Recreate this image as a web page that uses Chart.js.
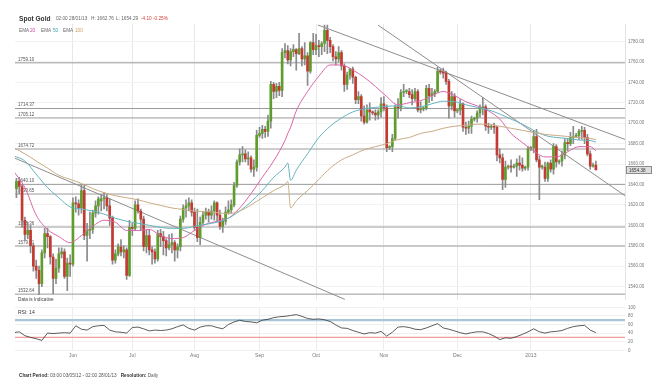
<!DOCTYPE html>
<html lang="en">
<head>
<meta charset="UTF-8">
<title>Spot Gold</title>
<script src="https://cdn.jsdelivr.net/npm/chart.js"></script>
<style>
  body { margin: 0; background: #fff; font-family: "Liberation Sans", Arial, sans-serif; }
  #wrap { position: relative; width: 663px; height: 390px; overflow: hidden; }
  canvas { position: absolute; left: 0; }
  .t { position: absolute; white-space: nowrap; line-height: 1; font-size: 4.7px; color: #666; }
</style>
</head>
<body>
<div id="wrap">
  <canvas id="main" width="663" height="306" style="top:0"></canvas>
  <canvas id="rsi" width="663" height="63" style="top:300px"></canvas>

  <div class="t" style="left:19px;top:15.5px;font-size:6.6px;font-weight:bold;color:#333">Spot Gold</div>
  <div class="t" style="left:56px;top:17px">02:00 28/01/13</div>
  <div class="t" style="left:91px;top:17px">H: 1662.76</div>
  <div class="t" style="left:116px;top:17px">L: 1654.29</div>
  <div class="t" style="left:141px;top:17px;color:#d9433a">-4.10</div>
  <div class="t" style="left:153px;top:17px;color:#d9433a">-0.25%</div>

  <div class="t" style="left:19px;top:28.7px">EMA</div>
  <div class="t" style="left:30px;top:28.7px;color:#d0409a">20</div>
  <div class="t" style="left:41px;top:28.7px">EMA</div>
  <div class="t" style="left:53px;top:28.7px;color:#3a9fb0">50</div>
  <div class="t" style="left:63px;top:28.7px">EMA</div>
  <div class="t" style="left:75px;top:28.7px;color:#c8a060">100</div>

  <div class="t" style="left:18px;top:298px;color:#444">Data is Indicative</div>
  <div class="t" style="left:18px;top:310px;font-size:5px;color:#333">RSI: 14</div>
  <div class="t" style="left:19px;top:374px;color:#555"><b style="color:#333">Chart Period:</b> 03:00 03/05/12 - 02:00 28/01/13 &nbsp; <b style="color:#333">Resolution:</b> Daily</div>
</div>

<script>
// daily candles per month: [day, open, high, low, close]
const may = [
  [3,1654,1656,1632,1636],[4,1636,1646,1627,1643],[7,1643,1647,1631,1638],[8,1638,1640,1598,1605],
  [9,1605,1608,1585,1591],[10,1591,1603,1587,1595],[11,1595,1600,1573,1580],[14,1580,1582,1555,1560],
  [15,1560,1566,1548,1556],[16,1556,1560,1532,1543],[17,1543,1576,1540,1573],[18,1573,1597,1568,1592],
  [21,1592,1597,1578,1589],[22,1589,1590,1562,1569],[23,1569,1572,1533,1548],[24,1548,1567,1543,1558],
  [25,1558,1578,1554,1572],[28,1572,1578,1568,1574],[29,1574,1577,1548,1550],[30,1550,1568,1536,1563],
  [31,1563,1571,1550,1562]
];
const jun = [
  [1,1562,1627,1560,1622],[4,1622,1628,1613,1621],[5,1621,1625,1610,1617],[6,1617,1640,1612,1634],
  [7,1634,1640,1586,1590],[8,1590,1602,1565,1595],[11,1595,1613,1587,1596],[12,1596,1615,1592,1612],
  [13,1612,1624,1608,1619],[14,1619,1628,1611,1626],[15,1624,1630,1614,1626],[18,1626,1632,1616,1627],
  [19,1627,1630,1614,1619],[20,1619,1626,1600,1607],[21,1607,1609,1562,1566],[22,1566,1576,1563,1572],
  [25,1572,1582,1570,1579],[26,1579,1586,1570,1574],[27,1574,1580,1568,1576],[28,1576,1578,1547,1551],
  [29,1551,1605,1550,1598]
];
const jul = [
  [2,1598,1602,1590,1597],[3,1597,1624,1595,1620],[4,1620,1626,1612,1614],[5,1614,1616,1595,1606],
  [6,1606,1609,1575,1579],[9,1579,1595,1573,1590],[10,1590,1596,1571,1576],[11,1576,1579,1562,1574],
  [12,1574,1577,1563,1567],[13,1567,1595,1565,1592],[16,1592,1596,1579,1589],[17,1589,1594,1571,1585],
  [18,1585,1587,1570,1578],[19,1578,1591,1576,1581],[20,1581,1592,1573,1583],[23,1583,1585,1565,1576],
  [24,1576,1582,1568,1579],[25,1579,1609,1575,1606],[26,1606,1620,1603,1617],[27,1617,1625,1608,1619],
  [30,1619,1627,1614,1622],[31,1622,1625,1609,1613]
];
const aug = [
  [1,1613,1617,1595,1598],[2,1598,1616,1584,1588],[3,1588,1608,1581,1603],[6,1603,1613,1601,1610],
  [7,1610,1617,1606,1613],[8,1613,1616,1603,1610],[9,1610,1619,1606,1614],[10,1614,1624,1605,1622],
  [13,1622,1623,1604,1610],[14,1610,1615,1596,1599],[15,1599,1607,1593,1604],[16,1604,1618,1601,1613],
  [17,1613,1624,1611,1615],[20,1615,1625,1612,1620],[21,1620,1642,1618,1639],[22,1639,1664,1637,1662],
  [23,1662,1675,1659,1669],[24,1669,1677,1662,1670],[27,1670,1674,1662,1665],[28,1665,1672,1659,1666],
  [29,1666,1668,1652,1655],[30,1655,1664,1648,1657],[31,1657,1693,1653,1688]
];
const sep = [
  [3,1688,1696,1686,1690],[4,1690,1698,1685,1694],[5,1694,1697,1686,1692],[6,1692,1708,1687,1702],
  [7,1702,1741,1695,1738],[10,1738,1740,1724,1731],[11,1731,1739,1725,1736],[12,1736,1740,1727,1732],
  [13,1732,1773,1726,1769],[14,1769,1778,1764,1771],[17,1771,1776,1758,1762],[18,1762,1773,1756,1770],
  [19,1770,1777,1765,1772],[20,1772,1773,1752,1768],[21,1768,1788,1767,1773],[24,1773,1775,1756,1763],
  [25,1763,1779,1757,1766],[26,1766,1769,1737,1751],[27,1751,1780,1749,1779],[28,1779,1788,1767,1772]
];
const oct = [
  [1,1772,1787,1767,1776],[2,1776,1781,1765,1775],[3,1775,1780,1767,1778],[4,1778,1796,1770,1791],
  [5,1791,1796,1768,1781],[8,1781,1784,1769,1775],[9,1775,1777,1761,1765],[10,1765,1770,1757,1763],
  [11,1763,1775,1760,1769],[12,1769,1771,1752,1756],[15,1756,1758,1731,1738],[16,1738,1750,1733,1747],
  [17,1747,1754,1743,1753],[18,1753,1755,1739,1745],[19,1745,1746,1719,1723],[22,1723,1731,1719,1726],
  [23,1726,1728,1702,1707],[24,1707,1717,1699,1701],[25,1701,1718,1700,1713],[26,1713,1720,1703,1711],
  [28,1711,1712,1708,1710],[29,1710,1713,1703,1708],[30,1708,1713,1704,1711],[31,1711,1725,1706,1719]
];
const nov = [
  [1,1719,1726,1712,1715],[2,1715,1718,1672,1676],[4,1676,1678,1674,1677],[5,1677,1689,1672,1685],
  [6,1685,1718,1683,1716],[7,1716,1724,1705,1715],[8,1715,1733,1712,1730],[9,1730,1738,1726,1731],
  [11,1731,1733,1729,1731],[12,1731,1734,1725,1728],[13,1728,1733,1718,1724],[14,1724,1734,1722,1731],
  [15,1731,1733,1711,1713],[16,1713,1721,1710,1714],[18,1714,1716,1712,1715],[19,1715,1737,1713,1734],
  [20,1734,1738,1720,1727],[21,1727,1734,1722,1729],[22,1729,1733,1726,1731],[23,1731,1755,1730,1751],
  [25,1751,1753,1748,1750],[26,1750,1754,1744,1749],[27,1749,1751,1738,1741],[28,1741,1743,1705,1717],
  [29,1717,1731,1713,1726],[30,1726,1729,1706,1712]
];
const dec = [
  [2,1712,1714,1710,1713],[3,1713,1723,1708,1719],[4,1719,1720,1692,1696],[5,1696,1701,1689,1695],
  [6,1695,1702,1690,1697],[7,1697,1707,1690,1704],[9,1704,1706,1702,1705],[10,1705,1712,1701,1710],
  [11,1710,1718,1706,1715],[12,1715,1725,1708,1716],[13,1716,1718,1693,1697],[14,1697,1700,1690,1696],
  [16,1696,1698,1694,1697],[17,1697,1700,1690,1696],[18,1696,1697,1663,1669],[19,1669,1675,1661,1666],
  [20,1666,1670,1635,1645],[21,1645,1663,1637,1657],[23,1657,1659,1655,1658],[24,1658,1664,1652,1657],
  [25,1657,1660,1656,1658],[26,1658,1665,1648,1661],[27,1661,1668,1654,1659],[28,1659,1666,1653,1656],
  [30,1656,1658,1654,1657],[31,1657,1677,1654,1675]
];
const jan = [
  [1,1675,1677,1673,1676],[2,1676,1693,1671,1687],[3,1687,1694,1662,1664],[4,1664,1668,1625,1657],
  [6,1657,1659,1655,1657],[7,1657,1662,1643,1646],[8,1646,1662,1643,1661],[9,1661,1664,1652,1655],
  [10,1655,1680,1650,1677],[11,1677,1679,1657,1662],[13,1662,1664,1660,1663],[14,1663,1673,1658,1669],
  [15,1669,1685,1665,1681],[16,1681,1685,1673,1680],[17,1680,1691,1678,1686],[18,1686,1697,1680,1687],
  [20,1687,1690,1686,1688],[21,1688,1694,1684,1692],[22,1692,1697,1684,1693],[23,1693,1696,1680,1686],
  [24,1686,1689,1668,1670],[25,1670,1673,1655,1658],[27,1658,1661,1657,1659],[28,1659,1663,1654,1654.38]
];
const monthNames = ['Jun', 'Jul', 'Aug', 'Sep', 'Oct', 'Nov', 'Dec', '2013'];

// moving averages at these bar positions
const emaAt  = [0,4,8,12,16,20,24,28,32,36,40,44,48,52,56,60,64,68,72,76,80,84,88,92,96,97,98,100,104,108,112,116,120,124,128,132,136,140,144,148,152,156,160,164,168,172,176,180,184,188,192,196,200,204,206];
const ema20  = [1653,1637,1610,1596,1589,1583,1590,1599,1605,1603,1595,1595,1596,1590,1587,1588,1595,1601,1604,1607,1617,1631,1647,1663,1683,1690,1696,1712,1731,1746,1757,1757,1752,1745,1736,1726,1718,1720,1722,1727,1731,1727,1721,1717,1712,1704,1690,1681,1673,1667,1667,1672,1677,1677,1673];
const ema50  = [1668,1663,1650,1637,1627,1618,1616,1614,1611,1607,1604,1602,1600,1598,1597,1597,1599,1601,1603,1607,1614,1623,1634,1647,1657,1661,1644,1654,1670,1686,1697,1705,1711,1714,1715.5,1716.5,1717,1715,1716,1719,1721.5,1721,1718,1715.5,1713,1709,1704,1699,1693,1688,1686,1685,1683.5,1683,1681.5];
const ema100 = [1676,1670,1663,1656,1649,1645,1641,1636,1632,1629,1627,1625,1622,1619.5,1617,1615.5,1614,1613.5,1612.5,1611.5,1614,1620,1627,1634,1640,1643,1617,1624,1634,1645,1656,1664,1669,1674,1677,1680,1684,1686,1690,1692,1695,1697,1698,1699,1699,1697,1695,1693,1691,1689,1688,1687,1686,1685,1684];

// RSI(14), one reading every second bar
const rsiStep = 2;
const rsi14 = [41,43,34,30,27,23,40,39,40,41,40,57,49,47,55,57,58,47,43,42,40,53,54,50,45,47,46,47,50,55,
  59,51,47,54,57,57,53,50,60,66,70,67,66,64,70,72,76,78,79,81,83,79,74,72,73,71,67,59,52,51,
  46,42,38,41,40,44,33,42,54,55,53,49,48,52,57,62,52,49,45,41,38,41,43,43,39,33,25,29,28,32,
  37,43,50,43,40,43,44,46,51,55,57,58,47,41];

// support / resistance levels and trend lines (bar position, price)
const levels = [1759.10, 1714.37, 1705.12, 1674.72, 1640.10, 1630.65, 1598.36, 1579.71, 1532.64];
const trendLines = [
  [[0.5, 1665.7], [117.2, 1527.5]],
  [[107.7, 1796.1], [216.3, 1684.1]],
  [[128.9, 1796.1], [216.3, 1629.0]]
];
const priceTicks = [1540,1560,1580,1600,1620,1640,1660,1680,1700,1720,1740,1760,1780];
const rsiTicks = [0,20,40,60,80,100];

const xMin = 0.5, xMax = 216.3;
const green = '#5e9c2c', red = '#c23b32';

Chart.defaults.font.family = '"Liberation Sans", Arial, sans-serif';

const bars = [];
const monthStarts = [];
[may, jun, jul, aug, sep, oct, nov, dec, jan].forEach((m, mi) => {
  if (mi > 0) monthStarts.push(bars.length);
  m.forEach(r => bars.push(r));
});

const wicks = bars.map((r, i) => ({ x: i, y: [r[3], r[2]] }));
const bodies = bars.map((r, i) => ({ x: i, y: [r[1], r[4]] }));
const bodyColors = bars.map(r => r[4] >= r[1] ? green : red);
const lastClose = bars[bars.length - 1][4];

function lineSet(points, color, width, order) {
  return { type: 'line', data: points, borderColor: color, borderWidth: width, pointRadius: 0, fill: false, order: order };
}

const datasets = [];
levels.forEach(v => datasets.push(lineSet([{ x: xMin, y: v }, { x: xMax, y: v }], '#9a9a9a', 1, 10)));
trendLines.forEach(t => datasets.push(lineSet(t.map(p => ({ x: p[0], y: p[1] })), '#8d8d8d', 1, 9)));
datasets.push({ type: 'bar', data: wicks, backgroundColor: '#8a8a8a', barThickness: 1, grouped: false, order: 4 });
datasets.push({ type: 'bar', data: bodies, backgroundColor: bodyColors, barThickness: 2, minBarLength: 1, grouped: false, order: 3 });
[[ema100, '#c9ab84'], [ema50, '#66b3c0'], [ema20, '#d866a8']].forEach(e => {
  const ds = lineSet(emaAt.map((x, i) => ({ x: x, y: e[0][i] })), e[1], 1, 1);
  ds.cubicInterpolationMode = 'monotone';
  datasets.push(ds);
});

const overlay = {
  id: 'overlay',
  beforeDatasetsDraw(chart) {
    const { ctx, chartArea, scales } = chart;
    ctx.save();
    ctx.font = '4.5px "Liberation Sans", Arial, sans-serif';
    ctx.fillStyle = '#555';
    ctx.textBaseline = 'bottom';
    levels.forEach(v => ctx.fillText(v.toFixed(2), chartArea.left + 3, scales.y.getPixelForValue(v) - 1.2));
    ctx.restore();
  },
  afterDraw(chart) {
    const { ctx, chartArea, scales } = chart;
    const y = Math.round(scales.y.getPixelForValue(lastClose));
    ctx.save();
    ctx.strokeStyle = '#e2e2e2';
    ctx.beginPath();
    ctx.moveTo(chartArea.right + 0.5, chartArea.top);
    ctx.lineTo(chartArea.right + 0.5, chartArea.bottom);
    ctx.stroke();
    ctx.fillStyle = '#dedede';
    ctx.strokeStyle = '#8a8a8a';
    ctx.fillRect(626.5, y - 3.5, 25, 7);
    ctx.strokeRect(626.5, y - 3.5, 25, 7);
    ctx.fillStyle = '#333';
    ctx.font = '4.6px "Liberation Sans", Arial, sans-serif';
    ctx.textBaseline = 'middle';
    ctx.fillText(lastClose.toFixed(2), 629, y + 0.3);
    ctx.restore();
  }
};

new Chart(document.getElementById('main'), {
  type: 'bar',
  data: { datasets: datasets },
  options: {
    responsive: false,
    animation: false,
    layout: { padding: { left: 15, top: 24, right: 0, bottom: 2 } },
    plugins: { legend: { display: false }, tooltip: { enabled: false } },
    scales: {
      x: {
        type: 'linear', min: xMin, max: xMax, offset: false,
        afterBuildTicks: a => { a.ticks = monthStarts.map(v => ({ value: v })); },
        afterFit: a => { a.height = 0; },
        ticks: { display: false },
        grid: { color: '#e8e8e8', drawTicks: false, offset: false },
        border: { display: false }
      },
      y: {
        position: 'right',
        min: 1526.6, max: 1797.1,
        afterBuildTicks: a => { a.ticks = priceTicks.map(v => ({ value: v })); },
        afterFit: a => { a.width = 38; },
        ticks: { callback: v => v.toFixed(2), font: { size: 4.5 }, color: '#777', padding: 3 },
        grid: { color: '#f2f2f2', drawTicks: false },
        border: { display: false }
      }
    }
  },
  plugins: [overlay]
});

new Chart(document.getElementById('rsi'), {
  type: 'line',
  data: {
    datasets: [
      lineSet([{ x: xMin, y: 70 }, { x: xMax, y: 70 }], '#aac5d8', 2.2, 3),
      lineSet([{ x: xMin, y: 30 }, { x: xMax, y: 30 }], '#f09a9a', 1.4, 2),
      lineSet(rsi14.map((v, i) => ({ x: i * rsiStep, y: v })), '#333', 0.8, 1)
    ]
  },
  options: {
    responsive: false,
    animation: false,
    layout: { padding: { left: 15, top: 7.3, right: 0, bottom: 0 } },
    plugins: { legend: { display: false }, tooltip: { enabled: false } },
    scales: {
      x: {
        type: 'linear', min: xMin, max: xMax,
        afterBuildTicks: a => { a.ticks = monthStarts.map(v => ({ value: v })); },
        afterFit: a => { a.height = 12.7; },
        ticks: { callback: (v, i) => monthNames[i], autoSkip: false, maxRotation: 0, font: { size: 5 }, color: '#777', padding: 2 },
        grid: { color: '#ececec', drawTicks: false },
        border: { display: false }
      },
      y: {
        position: 'right', min: 0, max: 100,
        afterBuildTicks: a => { a.ticks = rsiTicks.map(v => ({ value: v })); },
        afterFit: a => { a.width = 38; },
        ticks: { font: { size: 4.5 }, color: '#777', padding: 3 },
        grid: { color: '#f0f0f0', drawTicks: false },
        border: { display: false }
      }
    }
  }
});
</script>
</body>
</html>
